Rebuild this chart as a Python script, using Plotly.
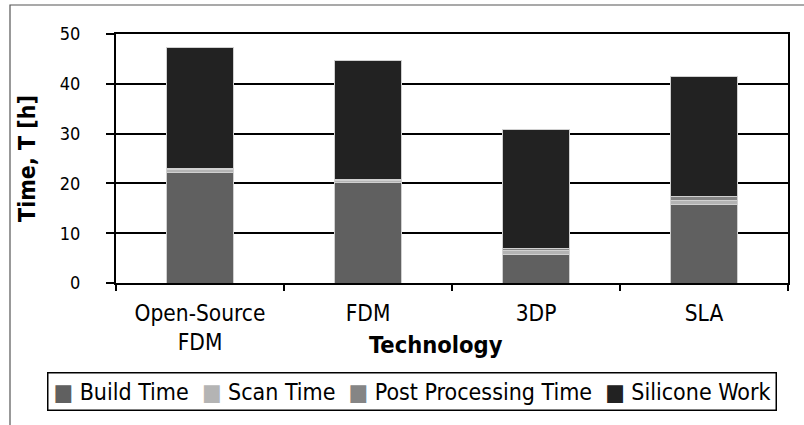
import plotly.graph_objects as go

technologies = ["Open-Source<br>FDM", "FDM", "3DP", "SLA"]
build_time = [22.1, 20.1, 5.8, 15.8]
scan_time = [0.6, 0.5, 0.65, 0.8]
post_processing = [0.2, 0.1, 0.55, 0.8]
silicone_work = [24.3, 24.0, 23.9, 24.0]

series = [
    ("Build Time", build_time, "#606060"),
    ("Scan Time", scan_time, "#b4b4b4"),
    ("Post Processing Time", post_processing, "#858585"),
    ("Silicone Work", silicone_work, "#222222"),
]

FONT = "DejaVu Sans Condensed, DejaVu Sans, sans-serif"

fig = go.Figure()
for name, vals, color in series:
    fig.add_trace(go.Bar(x=technologies, y=vals, name=name, showlegend=False,
                         marker=dict(color=color, line=dict(color="#d0d0d0", width=1))))

fig.update_layout(
    barmode="stack",
    bargap=0.6,
    width=804, height=425,
    margin=dict(l=116, r=16, t=34, b=142, autoexpand=False),
    paper_bgcolor="white", plot_bgcolor="white",
    font=dict(family=FONT, size=22.5, color="black"),
    xaxis=dict(tickson="boundaries", ticks="outside", ticklen=6, tickcolor="black", tickwidth=2,
               showline=True, linecolor="black", linewidth=2, mirror=True,
               tickfont=dict(size=22.5), ticklabelstandoff=9, automargin=False),
    yaxis=dict(title=dict(text="<b>Time, T [h]</b>", standoff=18, font=dict(size=23)),
               range=[0, 50], dtick=10, ticks="outside", ticklen=8, tickcolor="black", tickwidth=2,
               showgrid=True, gridcolor="black", gridwidth=2,
               showline=True, linecolor="black", linewidth=2, mirror=True,
               tickfont=dict(size=18), ticklabelstandoff=22, zeroline=False, automargin=False),
)

# x axis title sits level with the second line of the tick labels
fig.add_annotation(text="<b>Technology</b>", xref="paper", yref="paper",
                   x=0.476, y=-62 / 249, xanchor="center", yanchor="middle",
                   showarrow=False, font=dict(size=23.5))

# legend drawn as one boxed line, like the spreadsheet legend
nb = "\u00a0"
legend_text = (nb * 2).join(
    f'<span style="color:{color}">■</span>{nb}{name}' for name, _, color in series
)
fig.add_annotation(text=legend_text, xref="paper", yref="paper",
                   x=0.4405, y=-108 / 249, xanchor="center", yanchor="middle",
                   showarrow=False, font=dict(size=23),
                   bordercolor="black", borderwidth=1.5, borderpad=5, bgcolor="white")

# outer chart border
fig.add_shape(type="rect", xref="paper", yref="paper",
              x0=-106 / 672, x1=1.04, y0=-0.7, y1=1 + 29 / 249,
              line=dict(color="#555555", width=1.2), fillcolor="rgba(0,0,0,0)", layer="below")

fig.write_html("out.html", config={"displayModeBar": False},
               post_script="document.body.style.margin='0';")
